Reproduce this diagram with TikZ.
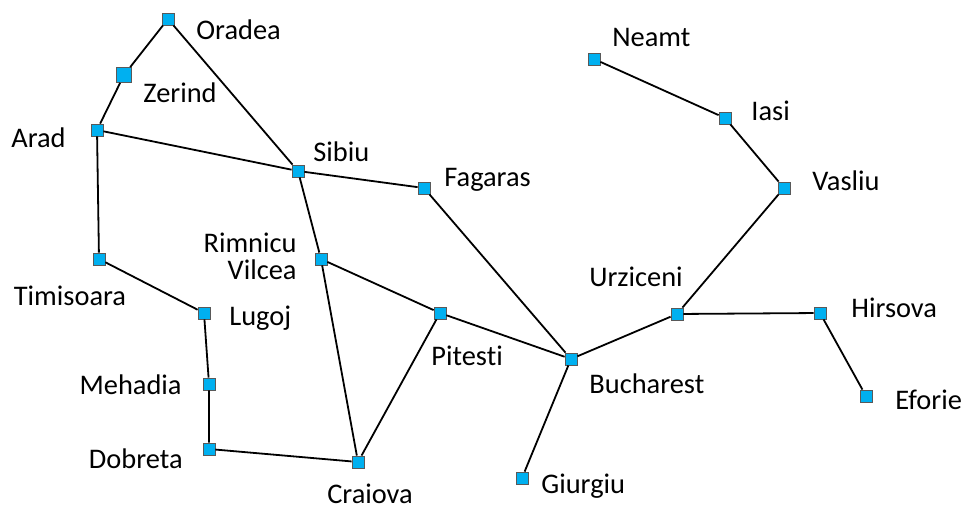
\documentclass[tikz,border=0pt]{standalone}
\usepackage{fontspec}
\setmainfont{Carlito}[RawFeature={-liga}]
\usepackage{tikz}
\definecolor{citycyan}{HTML}{00B0F0}

\begin{document}
\begin{tikzpicture}[x=0.5pt, y=-0.5pt,
            city/.style={draw=black!65, fill=citycyan, line width=0.4pt,
                minimum size=6pt, inner sep=0pt},
            road/.style={line width=0.9pt},
            citylabel/.style={inner sep=0pt, font=\fontsize{14.2}{13.5}\selectfont}]
    \useasboundingbox (0,0) rectangle (971,514);
    % cities
    \node[city] (oradea) at (168,19) {};
    \node[city, minimum size=7.5pt] (zerind) at (124,75) {};
    \node[city] (arad) at (97,130) {};
    \node[city] (sibiu) at (298,171) {};
    \node[city] (fagaras) at (424,188) {};
    \node[city] (rimnicu) at (321,259) {};
    \node[city] (timisoara) at (99,259) {};
    \node[city] (lugoj) at (204,313) {};
    \node[city] (mehadia) at (209,384) {};
    \node[city] (dobreta) at (209,449) {};
    \node[city] (craiova) at (358,462) {};
    \node[city] (pitesti) at (440,313) {};
    \node[city] (bucharest) at (571,359) {};
    \node[city] (giurgiu) at (522,478) {};
    \node[city] (urziceni) at (677,314) {};
    \node[city] (hirsova) at (820,313) {};
    \node[city] (eforie) at (866,396) {};
    \node[city] (vasliu) at (784,188) {};
    \node[city] (iasi) at (725,118) {};
    \node[city] (neamt) at (594,59) {};
    % roads
    \draw[road] (oradea) -- (zerind) -- (arad) -- (timisoara) -- (lugoj)
        -- (mehadia) -- (dobreta) -- (craiova) -- (pitesti) -- (bucharest)
        -- (urziceni) -- (hirsova) -- (eforie);
    \draw[road] (oradea) -- (sibiu) -- (fagaras) -- (bucharest) -- (giurgiu);
    \draw[road] (arad) -- (sibiu) -- (rimnicu) -- (craiova);
    \draw[road] (rimnicu) -- (pitesti);
    \draw[road] (urziceni) -- (vasliu) -- (iasi) -- (neamt);
    % labels
    \node[citylabel, anchor=mid west] (oradea-t) at (196,35) {Oradea};
    \node[citylabel, anchor=mid west] (zerind-t) at (143,98) {Zerind};
    \node[citylabel, anchor=mid east] (arad-t) at (66,143) {Arad};
    \node[citylabel, anchor=mid west] (sibiu-t) at (313,157) {Sibiu};
    \node[citylabel, anchor=mid west] (fagaras-t) at (444,182) {Fagaras};
    \node[citylabel, anchor=east, align=right] (rimnicu-t) at (297,256) {Rimnicu\\Vilcea};
    \node[citylabel, anchor=mid] (timisoara-t) at (70,301) {Timisoara};
    \node[citylabel, anchor=mid west] (lugoj-t) at (229,321) {Lugoj};
    \node[citylabel, anchor=mid east] (mehadia-t) at (182,390) {Mehadia};
    \node[citylabel, anchor=mid east] (dobreta-t) at (183,464) {Dobreta};
    \node[citylabel, anchor=mid] (craiova-t) at (370,499) {Craiova};
    \node[citylabel, anchor=mid west] (pitesti-t) at (431,361) {Pitesti};
    \node[citylabel, anchor=mid west] (bucharest-t) at (589,389) {Bucharest};
    \node[citylabel, anchor=mid west] (giurgiu-t) at (541,489) {Giurgiu};
    \node[citylabel, anchor=mid] (urziceni-t) at (636,282) {Urziceni};
    \node[citylabel, anchor=mid west] (hirsova-t) at (851,313) {Hirsova};
    \node[citylabel, anchor=mid west] (eforie-t) at (895,405) {Eforie};
    \node[citylabel, anchor=mid west] (vasliu-t) at (812,186) {Vasliu};
    \node[citylabel, anchor=mid west] (iasi-t) at (751,116) {Iasi};
    \node[citylabel, anchor=mid west] (neamt-t) at (612,42) {Neamt};
\end{tikzpicture}
\end{document}
